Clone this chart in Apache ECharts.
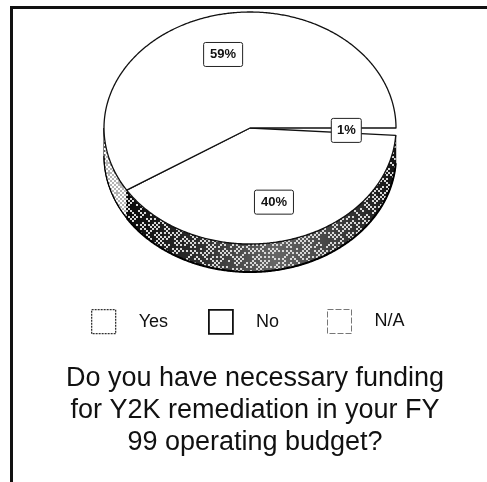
<!DOCTYPE html>
<html>
<head>
<meta charset="utf-8">
<style>html,body{margin:0;padding:0;background:#fff}#chart{width:487px;height:482px}</style>
<script src="https://cdn.jsdelivr.net/npm/echarts@6/dist/echarts.min.js"></script>
</head>
<body>
<div id="chart"></div>
<script>
// Survey shares, clockwise from three o'clock
const sliceNames = ['N/A', 'No', 'Yes'];
const sliceValues = [1, 40, 59];
const legendNames = ['Yes', 'No', 'N/A'];
const legendLefts = [91, 208, 327];
const titleLines = [
  'Do you have necessary funding',
  'for Y2K remediation in your FY',
  '99 operating budget?'
];

// Tilted-disc geometry
const CX = 250, CY = 128, RX = 146, RY = 116, DEPTH = 28, LABEL_T = 0.66;
const FONT = '"Liberation Sans", Arial, sans-serif';

// Halftone tile: flecks sit on a checker grid and a fixed hash thins them out unevenly
function grainTile(density, fleck) {
  const cell = 2, cells = 48;
  const c = document.createElement('canvas');
  c.width = c.height = cell * cells;
  const g = c.getContext('2d');
  g.fillStyle = fleck;
  for (let y = 0; y < cells; y++) {
    for (let x = 0; x < cells; x++) {
      if ((x + y) % 2) continue;
      const h = Math.sin(x * 12.9898 + y * 78.233) * 43758.5453;
      if (h - Math.floor(h) < density) g.fillRect(x * cell, y * cell, cell, cell);
    }
  }
  return c;
}

const darkRim = new echarts.graphic.LinearGradient(0, 0, 1, 0, [
  { offset: 0, color: '#0a0a0a' },
  { offset: 0.3, color: '#333' },
  { offset: 0.55, color: '#666' },
  { offset: 0.8, color: '#3c3c3c' },
  { offset: 1, color: '#141414' }
]);

const rimStyles = {
  'N/A': { fill: '#fff', grain: null },
  'No': { fill: darkRim, grain: { image: grainTile(0.6, '#d8d8d8'), repeat: 'repeat' } },
  'Yes': { fill: '#b4b4b4', grain: { image: grainTile(0.95, '#fff'), repeat: 'repeat' } }
};

function pointAt(deg, dy) {
  const a = deg * Math.PI / 180;
  return [CX + RX * Math.cos(a), CY + RY * Math.sin(a) + (dy || 0)];
}

function arcPoints(from, to, dy) {
  const pts = [];
  const n = Math.max(2, Math.ceil(Math.abs(to - from) * 2));
  for (let i = 0; i <= n; i++) pts.push(pointAt(from + (to - from) * i / n, dy));
  return pts;
}

function renderSlice(index) {
  return function (params, api) {
    const value = api.value(0);
    const name = sliceNames[index];
    const total = sliceValues.reduce((s, v) => s + v, 0);
    const before = sliceValues.slice(0, index).reduce((s, v) => s + v, 0);
    const start = before / total * 360;
    const end = start + value / total * 360;
    const mid = (start + end) / 2;
    const children = [];

    // Visible rim only spans the near half of the disc
    const rimEnd = Math.min(end, 180);
    if (start < 180) {
      const rim = arcPoints(start, rimEnd, 0).concat(arcPoints(rimEnd, start, DEPTH));
      const look = rimStyles[name];
      children.push({
        type: 'polygon', z2: 1, shape: { points: rim },
        style: { fill: look.fill, stroke: '#000', lineWidth: name === 'N/A' ? 0 : 1 }
      });
      if (look.grain) {
        children.push({
          type: 'polygon', z2: 2, shape: { points: rim },
          style: { fill: look.grain }, silent: true
        });
        children.push({
          type: 'polyline', z2: 3, shape: { points: arcPoints(start, rimEnd, DEPTH) },
          style: { fill: 'none', stroke: '#000', lineWidth: name === 'No' ? 2 : 1.3 }
        });
      }
    }

    // Top face, with the tiny slice left unstroked so its arc stays open
    children.push({
      type: 'polygon',
      z2: name === 'N/A' ? 4 : 5,
      shape: { points: [[CX, CY]].concat(arcPoints(start, end, 0)) },
      style: name === 'N/A'
        ? { fill: '#fff', lineWidth: 0 }
        : { fill: '#fff', stroke: '#111', lineWidth: 1.3, lineJoin: 'round' }
    });

    // Boxed percentage label
    const a = mid * Math.PI / 180;
    const lx = CX + RX * LABEL_T * Math.cos(a);
    const ly = CY + RY * LABEL_T * Math.sin(a);
    const w = value < 10 ? 30 : 39;
    children.push({
      type: 'rect', z2: 10,
      shape: { x: lx - w / 2, y: ly - 12, width: w, height: 24, r: 2 },
      style: { fill: '#fff', stroke: '#222', lineWidth: 1 }
    });
    children.push({
      type: 'text', z2: 11,
      style: {
        x: lx, y: ly, text: value + '%', align: 'center', verticalAlign: 'middle',
        font: 'bold 13px ' + FONT, fill: '#111'
      }
    });
    return { type: 'group', children };
  };
}

const legendLook = {
  'Yes': { color: '#fff', borderColor: '#333', borderWidth: 1.3, borderType: [2, 1] },
  'No': { color: '#fff', borderColor: '#111', borderWidth: 1.8, borderType: 'solid' },
  'N/A': { color: '#fff', borderColor: '#777', borderWidth: 1, borderType: [6, 2] }
};

const chart = echarts.init(document.getElementById('chart'), null, { renderer: 'canvas' });
chart.setOption({
  animation: false,
  backgroundColor: '#fff',
  title: {
    text: titleLines.join('\n'),
    left: 255, top: 363, textAlign: 'center', padding: 0,
    textStyle: {
      fontFamily: FONT, fontSize: 27, fontWeight: 'normal', color: '#111', lineHeight: 32
    }
  },
  // One legend per entry so the keys keep an even pitch regardless of label width
  legend: legendNames.map((name, i) => ({
    left: legendLefts[i], top: 309, padding: 0, itemWidth: 24, itemHeight: 24,
    selectedMode: false,
    data: [{ name, icon: 'rect', itemStyle: legendLook[name] }],
    formatter: n => '{t|' + n + '}',
    textStyle: {
      rich: {
        t: {
          padding: [0, 0, 0, 18], height: 20, lineHeight: 20,
          fontFamily: FONT, fontSize: 18, fontWeight: 500, color: '#111'
        }
      }
    }
  })),
  graphic: [
    { type: 'rect', shape: { x: 10, y: 6, width: 477, height: 3 }, style: { fill: '#111' } },
    { type: 'rect', shape: { x: 10, y: 6, width: 3, height: 476 }, style: { fill: '#111' } }
  ],
  series: sliceNames.map((name, i) => ({
    type: 'custom',
    name,
    coordinateSystem: 'none',
    silent: true,
    renderItem: renderSlice(i),
    data: [[sliceValues[i]]]
  }))
});
</script>
</body>
</html>
